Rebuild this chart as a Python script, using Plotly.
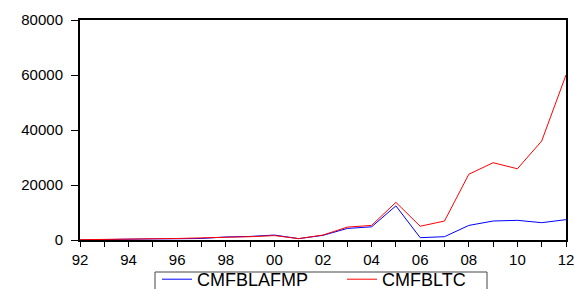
import plotly.graph_objects as go

years = list(range(1992, 2013))
tick_labels = ["92", "", "94", "", "96", "", "98", "", "00", "", "02", "", "04", "", "06", "", "08", "", "10", "", "12"]
cmfblafmp = [50, 250, 350, 400, 450, 550, 1100, 1300, 1800, 500, 1700, 4200, 4800, 12400, 850, 1200, 5300, 6900, 7150, 6300, 7400]
cmfbltc = [100, 300, 400, 450, 550, 650, 1000, 1200, 1600, 500, 1800, 4700, 5300, 13700, 5000, 6900, 23900, 28100, 25900, 36000, 60000]

fig = go.Figure()
fig.add_trace(go.Scatter(x=years, y=cmfblafmp, mode="lines", name="CMFBLAFMP",
                         line=dict(color="#0000FF", width=1)))
fig.add_trace(go.Scatter(x=years, y=cmfbltc, mode="lines", name="CMFBLTC",
                         line=dict(color="#FF0000", width=1)))

W, H = 574, 289
L, R, T, B = 80, 8, 20, 49
PW, PH = W - L - R, H - T - B
font = dict(family="Liberation Sans, Arial, sans-serif", size=15, color="black")
lfont = dict(family="Liberation Sans, Arial, sans-serif", size=18, color="black")

def px(xp):  # page x -> paper x
    return (xp - L) / PW

def py(yp):  # page y -> paper y
    return (H - B - yp) / PH

fig.update_layout(
    width=W, height=H,
    margin=dict(l=L, r=R, t=T, b=B, autoexpand=False),
    paper_bgcolor="white", plot_bgcolor="white",
    font=font,
    showlegend=True,
    legend=dict(orientation="h", x=157 / W, xref="container", xanchor="left",
                y=(H - 261) / H, yref="container", yanchor="top",
                borderwidth=0, font=lfont, bgcolor="rgba(0,0,0,0)",
                entrywidth=140, itemwidth=30, tracegroupgap=0),
    shapes=[dict(type="rect", xref="paper", yref="paper",
                 x0=px(155), x1=px(487), y0=py(272), y1=py(300),
                 line=dict(color="#444444", width=1), layer="above")],
    xaxis=dict(range=[1992, 2012], tickmode="array", tickvals=years, ticktext=tick_labels,
               ticks="outside", ticklen=5, tickwidth=1, tickcolor="black",
               showline=True, linecolor="black", linewidth=2, mirror=True,
               showgrid=False, zeroline=False, tickfont=font, automargin=False,
               ticklabeloverflow="allow", ticklabelstandoff=0),
    yaxis=dict(range=[0, 80000], tickmode="array", tickvals=[0, 20000, 40000, 60000, 80000],
               ticktext=["0", "20000", "40000", "60000", "80000"],
               ticks="outside", ticklen=7, tickwidth=1, tickcolor="black",
               showline=True, linecolor="black", linewidth=2, mirror=True,
               showgrid=False, zeroline=False, tickfont=font, automargin=False,
               ticklabeloverflow="allow", ticklabelstandoff=5),
)
fig.write_html(
    "out.html",
    config={"displayModeBar": False},
    post_script="document.body.style.margin='0';document.body.style.overflow='hidden';",
)
